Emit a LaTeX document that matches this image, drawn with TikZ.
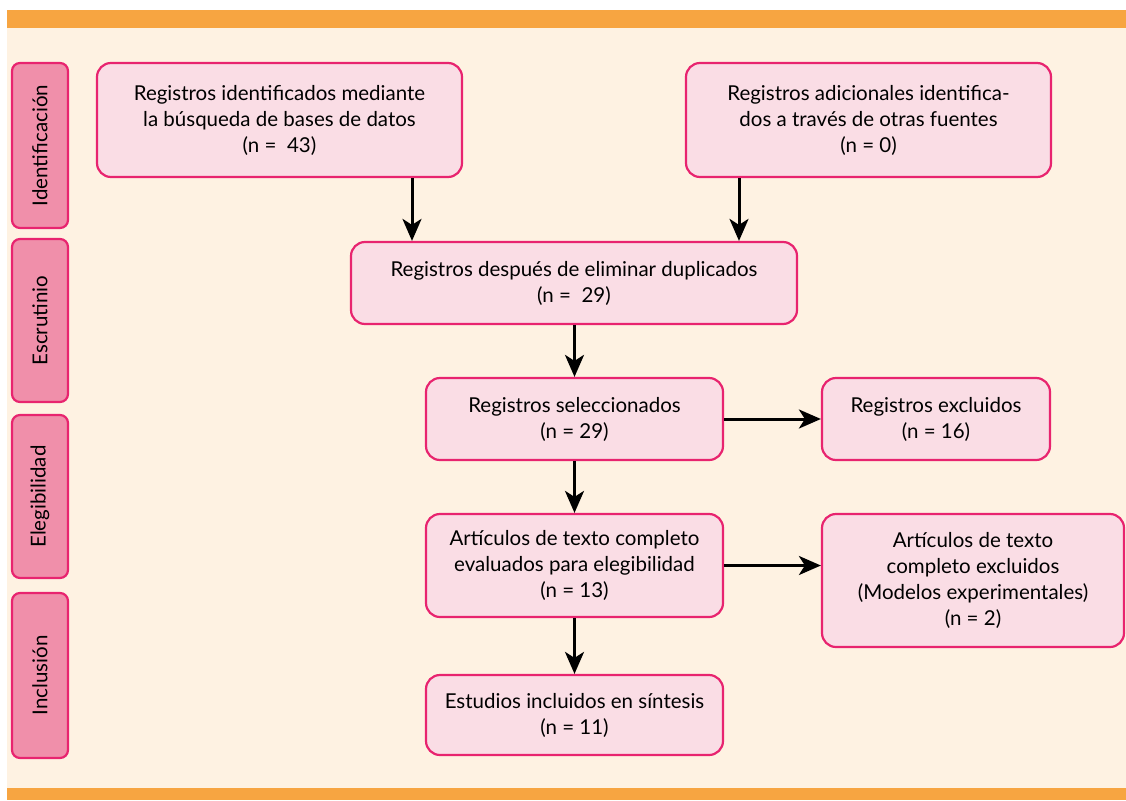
\documentclass[tikz,border=0pt]{standalone}
\usepackage{fontspec}
\setmainfont{Lato}
\usetikzlibrary{arrows.meta}
\definecolor{barorange}{HTML}{F7A541}
\definecolor{cream}{HTML}{FEF2E2}
\definecolor{boxfill}{HTML}{FADDE5}
\definecolor{boxline}{HTML}{E8246F}
\definecolor{sidefill}{HTML}{F08FAA}
\tikzset{
  flowbox/.style={draw=boxline, line width=2.2pt, fill=boxfill, rounded corners=14pt, align=center, font=\fontsize{20.5}{26}\selectfont, inner sep=0pt},
  sidebox/.style={draw=boxline, line width=2.2pt, fill=sidefill, rounded corners=8pt, inner sep=0pt},
  sidetext/.style={rotate=90, font=\fontsize{20.5}{24}\selectfont},
  flowarrow/.style={-{Stealth[length=22pt,width=19pt,inset=6pt]}, line width=3pt, black}
}
\begin{document}
\begin{tikzpicture}[x=1pt,y=-1pt]
\useasboundingbox (0,0) rectangle (1126,800);
\fill[white] (0,0) rectangle (1126,800);
\fill[cream] (7,28) rectangle (1126,788);
\fill[barorange] (7,10) rectangle (1126,28);
\fill[barorange] (7,788) rectangle (1126,800);
% side labels
\node[sidebox, minimum width=56pt, minimum height=165pt] (s1) at (40,145.5) {};
\node[sidetext] (t1) at (s1) {Identificación};
\node[sidebox, minimum width=56pt, minimum height=163pt] (s2) at (40,320.5) {};
\node[sidetext] (t2) at (s2) {Escrutinio};
\node[sidebox, minimum width=56pt, minimum height=163pt] (s3) at (40,496.5) {};
\node[sidetext] (t3) at (s3) {Elegibilidad};
\node[sidebox, minimum width=56pt, minimum height=165pt] (s4) at (40,675.5) {};
\node[sidetext] (t4) at (s4) {Inclusión};
% flow boxes
\node[flowbox, minimum width=365pt, minimum height=114pt] (a) at (279.5,120) {Registros identificados mediante\\la búsqueda de bases de datos\\(n =\ \ 43)};
\node[flowbox, minimum width=365pt, minimum height=114pt] (b) at (868.5,120) {Registros adicionales identifica-\\dos a través de otras fuentes\\(n = 0)};
\node[flowbox, minimum width=446pt, minimum height=82pt] (c) at (574,283) {Registros después de eliminar duplicados\\(n =\ \ 29)};
\node[flowbox, minimum width=297pt, minimum height=82pt] (d) at (574.5,419) {Registros seleccionados\\(n = 29)};
\node[flowbox, minimum width=228pt, minimum height=82pt] (e) at (936,419) {Registros excluidos\\(n = 16)};
\node[flowbox, minimum width=297pt, minimum height=103pt] (f) at (574.5,565.5) {Artículos de texto completo\\evaluados para elegibilidad\\(n = 13)};
\node[flowbox, minimum width=302pt, minimum height=133pt] (g) at (973,580.5) {Artículos de texto\\completo excluidos\\(Modelos experimentales)\\(n = 2)};
\node[flowbox, minimum width=297pt, minimum height=80pt] (h) at (574.5,715) {Estudios incluidos en síntesis\\(n = 11)};
% arrows
\draw[flowarrow] (a.south -| 412,0) -- (c.north -| 412,0);
\draw[flowarrow] (b.south -| 739,0) -- (c.north -| 739,0);
\draw[flowarrow] (c.south -| d.north) -- (d.north);
\draw[flowarrow] (d.east) -- (e.west);
\draw[flowarrow] (d.south) -- (f.north);
\draw[flowarrow] (f.east) -- (g.west |- f.east);
\draw[flowarrow] (f.south) -- (h.north);
\end{tikzpicture}
\end{document}
